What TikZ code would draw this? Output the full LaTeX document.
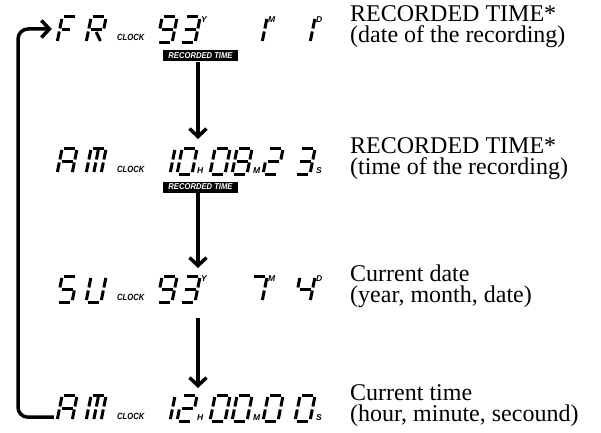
\documentclass[tikz,border=0pt]{standalone}
\usepackage{fontspec}
\setmainfont{Liberation Serif}
\newfontfamily\lcdsans{Liberation Sans}
\usetikzlibrary{positioning,arrows.meta}

% one LCD cell is 15 wide and 26 high, segments a..g as usual
\newcommand{\sga}{\draw[seg] (2,26) -- (13,26);}
\newcommand{\sgb}{\draw[seg] (15,24) -- (15,14.5);}
\newcommand{\sgc}{\draw[seg] (15,11.5) -- (15,2);}
\newcommand{\sgd}{\draw[seg] (2,0) -- (13,0);}
\newcommand{\sge}{\draw[seg] (0,2) -- (0,11.5);}
\newcommand{\sgf}{\draw[seg] (0,14.5) -- (0,24);}
\newcommand{\sgg}{\draw[seg] (2,13) -- (13,13);}
\newcommand{\sgh}{\draw[seg] (7.5,24) -- (7.5,14.5);}
\newcommand{\sgi}{\draw[seg] (7.5,11.5) -- (7.5,2);}
\newcommand{\sgk}{\draw[seg] (8,11) -- (14,2);}
\newcommand{\sgl}{\draw[seg] (2,13) -- (10,13);}

\newcommand{\dZero}{\sga\sgb\sgc\sgd\sge\sgf}
\newcommand{\dOne}{\sgb\sgc}
\newcommand{\dTwo}{\sga\sgb\sgg\sge\sgd}
\newcommand{\dThree}{\sga\sgb\sgg\sgc\sgd}
\newcommand{\dFour}{\sgf\sgg\sgb\sgc}
\newcommand{\dFive}{\sga\sgf\sgg\sgc\sgd}
\newcommand{\dSeven}{\sga\sgb\sgc}
\newcommand{\dEight}{\sga\sgb\sgc\sgd\sge\sgf\sgg}
\newcommand{\dNine}{\sga\sgb\sgc\sgd\sgf\sgg}
\newcommand{\lA}{\sga\sgb\sgc\sge\sgf\sgg}
\newcommand{\lF}{\sga\sgf\sge\sgl}
\newcommand{\lM}{\sga\sgb\sgc\sge\sgf\sgh\sgi}
\newcommand{\lR}{\sga\sgb\sgf\sgg\sge\sgk}
\newcommand{\lU}{\sgf\sge\sgd\sgc\sgb}

% \lcd{x}{y of bottom}{segments}
\newcommand{\lcd}[3]{\begin{scope}[shift={(#1,#2)},xslant=0.2] #3 \end{scope}}

\tikzset{
  seg/.style={line width=3pt, line cap=butt},
  cellbox/.style={minimum width=50pt, minimum height=26pt, inner sep=0pt},
  clocklbl/.style={font=\lcdsans\bfseries\itshape\fontsize{9}{9}\selectfont, inner sep=0pt, xscale=.85, transform shape},
  unitlbl/.style={font=\lcdsans\bfseries\itshape\fontsize{8.5}{8.5}\selectfont, inner sep=0pt},
  badge/.style={fill=black, text=white, inner sep=0pt, minimum width=83pt, minimum height=11pt,
    font=\lcdsans\bfseries\itshape\fontsize{8.5}{8.5}\selectfont, xscale=.9, transform shape},
  note/.style={font=\fontsize{24}{21}\selectfont, align=left, inner sep=0pt, anchor=base west},
  flow/.style={line width=3.5pt, -{Straight Barb[length=8pt, width=17pt]}}
}

\begin{document}
\begin{tikzpicture}[x=1pt, y=1pt]
\useasboundingbox (0,0) rectangle (601,432);

% row 1: recorded date
\node[cellbox] (frday) at (82,403) {};
\lcd{57}{389}{\lF} \lcd{86}{389}{\lR}
\node[clocklbl, anchor=base west] (clkone) at (117,391) {CLOCK};
\lcd{157}{389}{\dNine} \lcd{180}{389}{\dThree}
\node[unitlbl, anchor=north west] (yrone) at (201,416) {Y};
\lcd{247}{389}{\dOne}
\node[unitlbl, anchor=north west] (moone) at (268,416) {M};
\lcd{295}{389}{\dOne}
\node[unitlbl, anchor=north west] (dyone) at (316,416) {D};
\node[badge] (recone) at (200.5,376) {RECORDED TIME};
\node[note] (noteone) at (350,389) {RECORDED TIME*\\(date of the recording)};

% row 2: recorded time
\node[cellbox] (amrec) at (82,271) {};
\lcd{57}{258}{\lA} \lcd{86}{258}{\lM}
\node[clocklbl, anchor=base west] (clktwo) at (117,260) {CLOCK};
\lcd{155}{258}{\dOne} \lcd{177}{258}{\dZero}
\node[unitlbl, anchor=south west] (hrtwo) at (197,258) {H};
\lcd{210}{258}{\dZero} \lcd{232}{258}{\dEight}
\node[unitlbl, anchor=south west] (mntwo) at (253,258) {M};
\lcd{263}{258}{\dTwo} \lcd{295}{258}{\dThree}
\node[unitlbl, anchor=south west] (sctwo) at (316,258) {S};
\node[badge] (rectwo) at (200.5,245) {RECORDED TIME};
\node[note] (notetwo) at (350,258) {RECORDED TIME*\\(time of the recording)};

% row 3: current date
\node[cellbox] (suday) at (82,143) {};
\lcd{57}{130}{\dFive} \lcd{86}{130}{\lU}
\node[clocklbl, anchor=base west] (clkthree) at (117,132) {CLOCK};
\lcd{157}{130}{\dNine} \lcd{180}{130}{\dThree}
\node[unitlbl, anchor=north west] (yrthree) at (201,157) {Y};
\lcd{247}{130}{\dSeven}
\node[unitlbl, anchor=north west] (mothree) at (268,157) {M};
\lcd{295}{130}{\dFour}
\node[unitlbl, anchor=north west] (dythree) at (316,157) {D};
\node[note] (notethree) at (350,130) {Current date\\(year, month, date)};

% row 4: current time
\node[cellbox] (amnow) at (82,24) {};
\lcd{57}{11}{\lA} \lcd{86}{11}{\lM}
\node[clocklbl, anchor=base west] (clkfour) at (117,13) {CLOCK};
\lcd{155}{11}{\dOne} \lcd{177}{11}{\dTwo}
\node[unitlbl, anchor=south west] (hrfour) at (197,11) {H};
\lcd{210}{11}{\dZero} \lcd{232}{11}{\dZero}
\node[unitlbl, anchor=south west] (mnfour) at (253,11) {M};
\lcd{263}{11}{\dZero} \lcd{295}{11}{\dZero}
\node[unitlbl, anchor=south west] (scfour) at (316,11) {S};
\node[note] (notefour) at (350,11) {Current time\\(hour, minute, secound)};

% arrows between the displays
\coordinate (toptwo) at (198,293);
\coordinate (topthree) at (198,164);
\coordinate (offthree) at (198,114);
\coordinate (topfour) at (198,44);
\coordinate (loopx) at (18,200);
\draw[flow] (recone.south -| toptwo) -- (toptwo);
\draw[flow] (rectwo.south -| topthree) -- (topthree);
\draw[flow] (offthree) -- (topfour);
\draw[flow, rounded corners=10pt] ([xshift=-3pt,yshift=4pt]amnow.south west) -| (loopx) |- ([xshift=-5pt]frday.west);
\end{tikzpicture}
\end{document}
